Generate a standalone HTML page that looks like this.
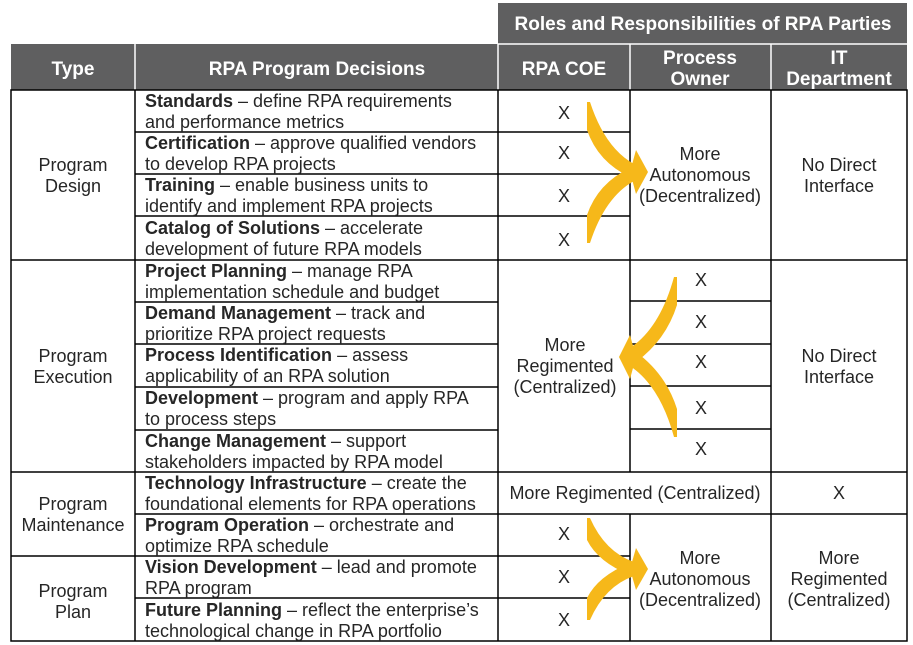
<!DOCTYPE html>
<html><head><meta charset="utf-8"><style>
body{margin:0;background:#fff}
svg{display:block}
text{font-family:"Liberation Sans",sans-serif;font-size:18px;fill:#262626}
.h{fill:#fff;font-weight:bold;font-size:19px}
.b{font-weight:bold}
.c{text-anchor:middle}
</style></head><body>
<svg width="913" height="645" viewBox="0 0 913 645" xmlns="http://www.w3.org/2000/svg">
<rect x="498" y="3" width="409" height="41" fill="#5f5f60"/>
<rect x="11" y="44" width="896" height="46" fill="#5f5f60"/>
<g stroke="#fff" stroke-width="1.5">
<line x1="498" y1="44" x2="907" y2="44"/>
<line x1="135" y1="44" x2="135" y2="90"/>
<line x1="498" y1="44" x2="498" y2="90"/>
<line x1="630" y1="44" x2="630" y2="90"/>
<line x1="771" y1="44" x2="771" y2="90"/>
</g>
<text class="h c" x="703" y="30">Roles and Responsibilities of RPA Parties</text>
<text class="h c" x="73" y="75">Type</text>
<text class="h c" x="317" y="75">RPA Program Decisions</text>
<text class="h c" x="564" y="75">RPA COE</text>
<text class="h c" x="700" y="64">Process</text>
<text class="h c" x="700" y="85">Owner</text>
<text class="h c" x="839" y="64">IT</text>
<text class="h c" x="839" y="85">Department</text>
<g stroke="#000" stroke-width="1.5" fill="none">
<rect x="11" y="90" width="896" height="551"/>
<line x1="135" y1="90" x2="135" y2="641"/>
<line x1="498" y1="90" x2="498" y2="641"/>
<line x1="630" y1="90" x2="630" y2="472"/>
<line x1="630" y1="514" x2="630" y2="641"/>
<line x1="771" y1="90" x2="771" y2="641"/>
<line x1="11" y1="260" x2="907" y2="260"/>
<line x1="11" y1="472" x2="907" y2="472"/>
<line x1="135" y1="514" x2="907" y2="514"/>
<line x1="11" y1="556" x2="135" y2="556"/>
<line x1="135" y1="132" x2="630" y2="132"/>
<line x1="135" y1="174" x2="630" y2="174"/>
<line x1="135" y1="216" x2="630" y2="216"/>
<line x1="135" y1="302" x2="498" y2="302"/>
<line x1="135" y1="344" x2="498" y2="344"/>
<line x1="135" y1="387" x2="498" y2="387"/>
<line x1="135" y1="430" x2="498" y2="430"/>
<line x1="630" y1="301" x2="771" y2="301"/>
<line x1="630" y1="344" x2="771" y2="344"/>
<line x1="630" y1="386" x2="771" y2="386"/>
<line x1="630" y1="429" x2="771" y2="429"/>
<line x1="135" y1="556" x2="630" y2="556"/>
<line x1="135" y1="598" x2="630" y2="598"/>
</g>
<text class="c" x="73" y="171">Program</text><text class="c" x="73" y="192">Design</text>
<text class="c" x="73" y="362">Program</text><text class="c" x="73" y="383">Execution</text>
<text class="c" x="73" y="510">Program</text><text class="c" x="73" y="531">Maintenance</text>
<text class="c" x="73" y="597">Program</text><text class="c" x="73" y="618">Plan</text>
<g>
<text x="145" y="107"><tspan class="b">Standards</tspan> – define RPA requirements</text><text x="145" y="128">and performance metrics</text>
<text x="145" y="149"><tspan class="b">Certification</tspan> – approve qualified vendors</text><text x="145" y="170">to develop RPA projects</text>
<text x="145" y="191"><tspan class="b">Training</tspan> – enable business units to</text><text x="145" y="212">identify and implement RPA projects</text>
<text x="145" y="234"><tspan class="b">Catalog of Solutions</tspan> – accelerate</text><text x="145" y="255">development of future RPA models</text>
<text x="145" y="277"><tspan class="b">Project Planning</tspan> – manage RPA</text><text x="145" y="298">implementation schedule and budget</text>
<text x="145" y="319"><tspan class="b">Demand Management</tspan> – track and</text><text x="145" y="340">prioritize RPA project requests</text>
<text x="145" y="361"><tspan class="b">Process Identification</tspan> – assess</text><text x="145" y="382">applicability of an RPA solution</text>
<text x="145" y="404"><tspan class="b">Development</tspan> – program and apply RPA</text><text x="145" y="425">to process steps</text>
<text x="145" y="447"><tspan class="b">Change Management</tspan> – support</text><text x="145" y="468">stakeholders impacted by RPA model</text>
<text x="145" y="489"><tspan class="b">Technology Infrastructure</tspan> – create the</text><text x="145" y="510">foundational elements for RPA operations</text>
<text x="145" y="531"><tspan class="b">Program Operation</tspan> – orchestrate and</text><text x="145" y="552">optimize RPA schedule</text>
<text x="145" y="573"><tspan class="b">Vision Development</tspan> – lead and promote</text><text x="145" y="594">RPA program</text>
<text x="145" y="616"><tspan class="b">Future Planning</tspan> – reflect the enterprise’s</text><text x="145" y="637">technological change in RPA portfolio</text>
</g>
<g>
<text class="c" x="564" y="119">X</text><text class="c" x="564" y="159">X</text><text class="c" x="564" y="202">X</text><text class="c" x="564" y="246">X</text>
<text class="c" x="701" y="286">X</text><text class="c" x="701" y="328">X</text><text class="c" x="701" y="368">X</text><text class="c" x="701" y="414">X</text><text class="c" x="701" y="455">X</text>
<text class="c" x="839" y="499">X</text>
<text class="c" x="564" y="540">X</text><text class="c" x="564" y="583">X</text><text class="c" x="564" y="626">X</text>
</g>
<text class="c" x="700" y="160">More</text><text class="c" x="700" y="181">Autonomous</text><text class="c" x="700" y="202">(Decentralized)</text>
<text class="c" x="839" y="171">No Direct</text><text class="c" x="839" y="192">Interface</text>
<text class="c" x="565" y="351">More</text><text class="c" x="565" y="372">Regimented</text><text class="c" x="565" y="393">(Centralized)</text>
<text class="c" x="839" y="362">No Direct</text><text class="c" x="839" y="383">Interface</text>
<text class="c" x="635" y="499">More Regimented (Centralized)</text>
<text class="c" x="700" y="564">More</text><text class="c" x="700" y="585">Autonomous</text><text class="c" x="700" y="606">(Decentralized)</text>
<text class="c" x="839" y="564">More</text><text class="c" x="839" y="585">Regimented</text><text class="c" x="839" y="606">(Centralized)</text>
<g fill="#f6b81a">
<path d="M587,102 L590,102 Q605,148 634,164 L630,177 Q598,162 587,130 Z"/>
<path d="M587,243 L590,243 Q605,197 634,181 L630,168 Q598,183 587,215 Z"/>
<polygon points="636,150 648,172 636,194 630,172"/>
<path d="M677,277 L674,277 Q660,328 630,348 L636,362 Q666,340 677,305 Z"/>
<path d="M677,437 L674,437 Q660,386 630,366 L636,352 Q666,374 677,409 Z"/>
<polygon points="630,335 619,357 630,379 636,357"/>
<path d="M587,518 L590,518 Q605,552 634,562 L630,575 Q598,562 587,540 Z"/>
<path d="M587,620 L590,620 Q605,586 634,576 L630,563 Q598,576 587,598 Z"/>
<polygon points="636,548 648,569 636,590 630,569"/>
</g>
</svg>
</body></html>
